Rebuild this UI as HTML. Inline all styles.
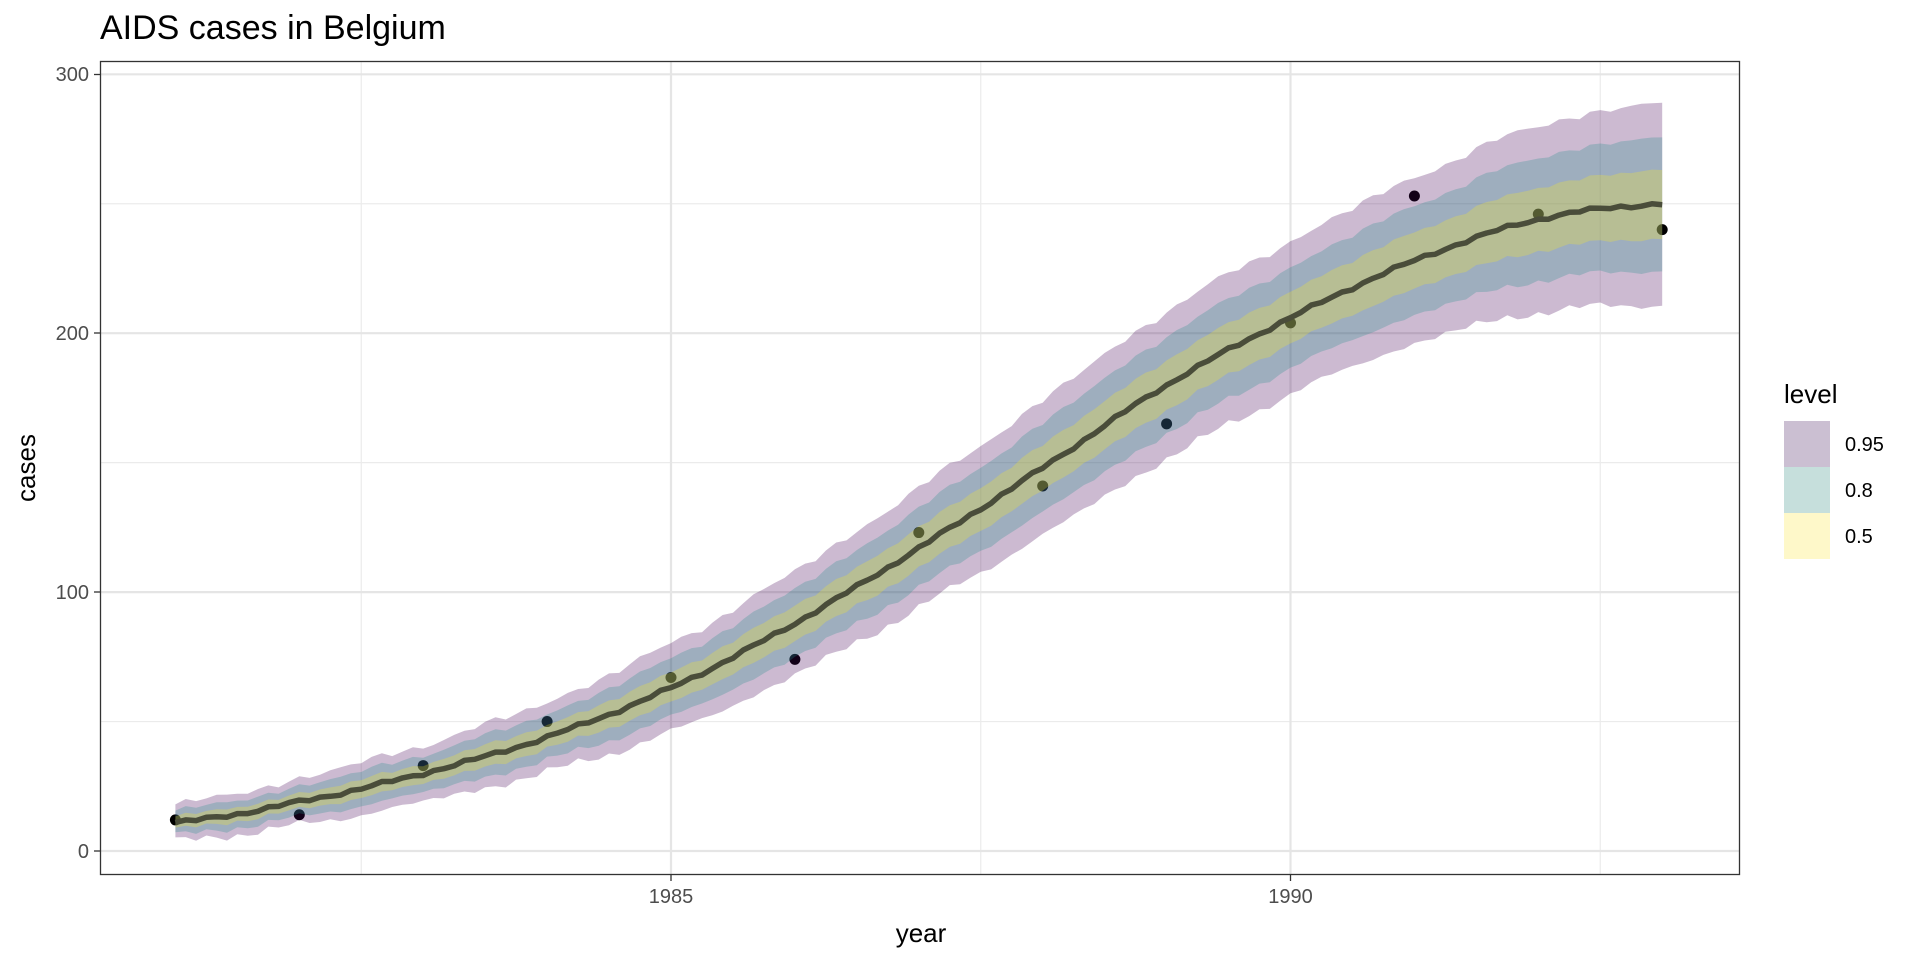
<!DOCTYPE html>
<html><head><meta charset="utf-8"><style>
html,body{margin:0;padding:0;background:#fff;}
svg{display:block;font-family:"Liberation Sans",Arial,sans-serif;}
</style></head><body>
<svg id="s" width="1920" height="960" xmlns="http://www.w3.org/2000/svg">
<text x="100" y="39" font-size="34" fill="#000">AIDS cases in Belgium</text>
<g id="grid"></g>
<g id="bands"></g>
<rect x="100.5" y="61.5" width="1639" height="813" fill="none" stroke="#333" stroke-width="1.3"/>
<g font-size="20" fill="#4d4d4d" text-anchor="end">
<text x="89" y="858">0</text>
<text x="89" y="599">100</text>
<text x="89" y="340">200</text>
<text x="89" y="81">300</text>
</g>
<g stroke="#333" stroke-width="1.3">
<line x1="94" x2="100" y1="851" y2="851"/><line x1="94" x2="100" y1="592" y2="592"/>
<line x1="94" x2="100" y1="333" y2="333"/><line x1="94" x2="100" y1="74.5" y2="74.5"/>
<line x1="671" x2="671" y1="875" y2="881"/><line x1="1290.5" x2="1290.5" y1="875" y2="881"/>
</g>
<g font-size="20" fill="#4d4d4d" text-anchor="middle">
<text x="671" y="903">1985</text><text x="1290.5" y="903">1990</text>
</g>
<text x="921" y="942" font-size="26" text-anchor="middle" fill="#000">year</text>
<text transform="translate(35,468) rotate(-90)" font-size="26" text-anchor="middle" fill="#000">cases</text>
<text x="1784" y="403" font-size="26" fill="#000">level</text>
<rect x="1784" y="421" width="46" height="46" fill="#cbbfd2"/>
<rect x="1784" y="467" width="46" height="46" fill="#c6dfdc"/>
<rect x="1784" y="513" width="46" height="46" fill="#fef8c9"/>
<g font-size="20" fill="#000"><text x="1845" y="451">0.95</text><text x="1845" y="497">0.8</text><text x="1845" y="543">0.5</text></g>
</svg>
<script>
const NS="http://www.w3.org/2000/svg";
const X=y=>671+(y-1985)*123.9, Y=v=>851-v*2.589;
function el(p,t,a){const e=document.createElementNS(NS,t);for(const k in a)e.setAttribute(k,a[k]);p.appendChild(e);return e;}
const g=document.getElementById('grid');
[50,150,250].forEach(v=>el(g,'line',{x1:101,x2:1739,y1:Y(v),y2:Y(v),stroke:'#ebebeb','stroke-width':1.2}));
[1982.5,1987.5,1992.5].forEach(v=>el(g,'line',{x1:X(v),x2:X(v),y1:62,y2:874,stroke:'#ebebeb','stroke-width':1.2}));
[0,100,200,300].forEach(v=>el(g,'line',{x1:101,x2:1739,y1:Y(v),y2:Y(v),stroke:'#e5e5e5','stroke-width':2.2}));
[1985,1990].forEach(v=>el(g,'line',{x1:X(v),x2:X(v),y1:62,y2:874,stroke:'#e5e5e5','stroke-width':2.2}));
const km=[11,19,30,44,63,88,117,148,180,206,228,244,250];
const kh=[7,9,11,13.5,17,20,23,26,28.5,29.5,32,36,39];
function interp(arr,t){let i=Math.min(11,Math.floor(t-1981));const f=t-1981-i;
 const p0=arr[Math.max(0,i-1)],p1=arr[i],p2=arr[i+1],p3=arr[Math.min(12,i+2)];
 return 0.5*((2*p1)+(-p0+p2)*f+(2*p0-5*p1+4*p2-p3)*f*f+(-p0+3*p1-3*p2+p3)*f*f*f);}
const N=144,ts=[],m=[],h=[],nu=[],nl=[];
for(let i=0;i<=N;i++){const t=1981+12*i/N;ts.push(t);
 m.push(interp(km,t)+(Math.sin(i*2.3)*0.5+Math.sin(i*0.7)*0.4));h.push(interp(kh,t));
 nu.push(Math.sin(i*1.7)*0.8+Math.sin(i*0.45)*0.7);nl.push(Math.sin(i*2.1+1)*0.8+Math.sin(i*0.5+2)*0.8);}
const b=document.getElementById('bands');
const pts=[[1981,12],[1982,14],[1983,33],[1984,50],[1985,67],[1986,74],[1987,123],[1988,141],[1989,165],[1990,204],[1991,253],[1992,246],[1993,240]];
pts.forEach(p=>el(b,'circle',{cx:X(p[0]),cy:Y(p[1]),r:5.5,fill:'#000'}));
function band(k,fill){let d='M';for(let i=0;i<=N;i++)d+=X(ts[i]).toFixed(1)+','+Y(m[i]+h[i]*k+nu[i]*k*0.9).toFixed(1)+' ';
 for(let i=N;i>=0;i--)d+='L'+X(ts[i]).toFixed(1)+','+Y(m[i]-h[i]*k+nl[i]*k*0.9).toFixed(1)+' ';
 el(b,'path',{d:d+'Z',fill:fill});}
band(1,'rgba(68,1,84,0.27)');
band(0.66,'rgba(33,145,140,0.27)');
band(0.34,'rgba(253,231,37,0.27)');
let d='M';for(let i=0;i<=N;i++)d+=(i?'L':'')+X(ts[i]).toFixed(1)+','+Y(m[i]).toFixed(1)+' ';
el(b,'path',{d:d,fill:'none',stroke:'#4a4d3a','stroke-width':5.5,'stroke-linejoin':'round'});
</script>
</body></html>
